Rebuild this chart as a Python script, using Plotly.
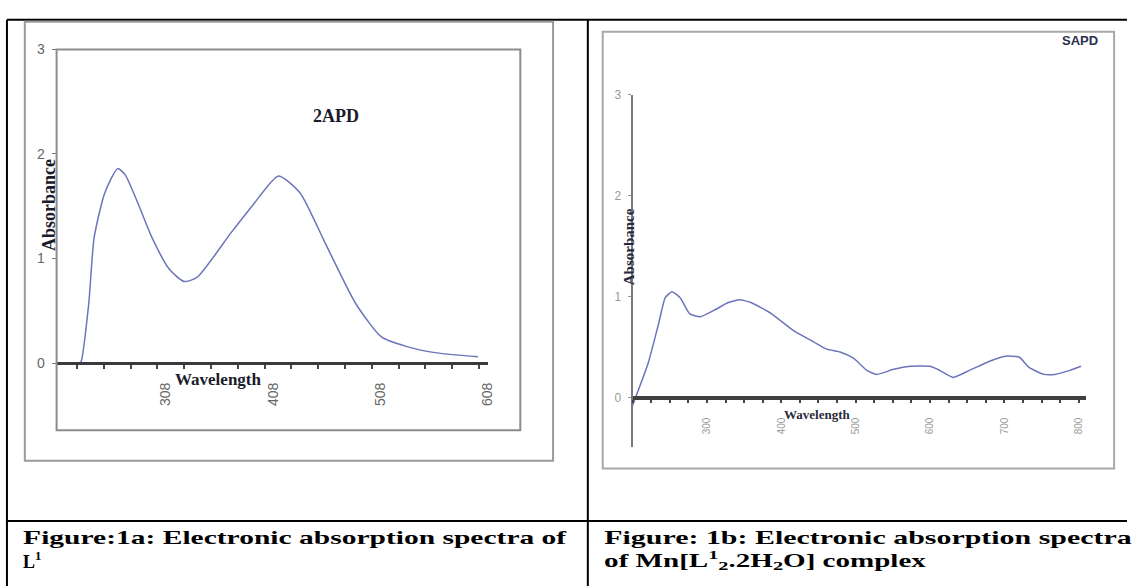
import plotly.graph_objects as go

W, H = 1135, 586

# ---------------- data ----------------
wl_1a = [206, 227, 229, 236, 241, 251, 263, 270, 283, 295, 311, 325, 337, 369, 389, 413, 433, 456, 485, 509, 532, 559, 599]
abs_1a = [0, 0, 0.02, 0.57, 1.20, 1.63, 1.86, 1.80, 1.50, 1.20, 0.90, 0.78, 0.82, 1.25, 1.51, 1.79, 1.63, 1.16, 0.57, 0.25, 0.16, 0.10, 0.06]
ticks_1a = [308, 408, 508, 608]

wl_1b = [200, 221, 235, 244, 253, 264, 277, 291, 311, 328, 344, 360, 387, 417, 444, 461, 480, 497, 515, 528,
         551, 573, 600, 613, 631, 653, 680, 701, 720, 733, 753, 768, 788, 803]
abs_1b = [-0.08, 0.34, 0.73, 0.99, 1.05, 0.99, 0.83, 0.80, 0.87, 0.94, 0.97, 0.94, 0.83, 0.66, 0.55, 0.48, 0.45, 0.39, 0.27, 0.23,
          0.28, 0.31, 0.31, 0.27, 0.20, 0.27, 0.36, 0.41, 0.40, 0.30, 0.23, 0.23, 0.27, 0.31]
ticks_1b = [300, 400, 500, 600, 700, 800]

y_ticks = [0, 1, 2, 3]


def px(x):
    return x / W


def py(y):
    return 1 - y / H


SERIF = "Liberation Serif, Times New Roman, serif"
SANS = "Liberation Sans, Arial, sans-serif"
LINE = "rgb(108,116,186)"

fig = go.Figure()
fig.add_trace(go.Scatter(x=wl_1a, y=abs_1a, mode="lines", line=dict(color=LINE, width=1.5, shape="spline", smoothing=0.6),
                         xaxis="x", yaxis="y", showlegend=False, hoverinfo="skip"))
fig.add_trace(go.Scatter(x=wl_1b, y=abs_1b, mode="lines", line=dict(color=LINE, width=1.5, shape="spline", smoothing=0.5),
                         xaxis="x2", yaxis="y2", showlegend=False, hoverinfo="skip"))

# panel a geometry (pixels)
a_y0, a_y3, a_bot = 360, 42, 428
a_unit = (a_y0 - a_y3) / 3
b_y0, b_y3, b_bot = 395, 88, 445
b_unit = (b_y0 - b_y3) / 3

fig.update_layout(
    width=W, height=H, margin=dict(l=0, r=0, t=0, b=0),
    paper_bgcolor="white", plot_bgcolor="rgba(0,0,0,0)",
    xaxis=dict(domain=[px(57), px(491)], range=[206, 608], anchor="free", position=py(a_y0),
               showline=True, linecolor="#3a3a3a", linewidth=3, showgrid=False, zeroline=False,
               tickmode="array", tickvals=ticks_1a, ticktext=[str(t) for t in ticks_1a],
               ticks="", tickangle=-90, ticklabelstandoff=12,
               tickfont=dict(family=SANS, size=14, color="#666"),
               minor=dict(tickmode="linear", tick0=200, dtick=25, ticks="outside", ticklen=4, tickcolor="#444", tickwidth=1.5)),
    yaxis=dict(domain=[py(a_bot), py(a_y3)], range=[-(a_bot - a_y0) / a_unit, 3], anchor="x",
               showline=False, showgrid=False, zeroline=False,
               tickmode="array", tickvals=y_ticks, ticks="outside", ticklen=4, tickcolor="#777",
               ticklabelstandoff=4, tickfont=dict(family=SANS, size=14, color="#666")),
    xaxis2=dict(domain=[px(637), px(1094)], range=[200, 810], anchor="free", position=py(b_y0),
                showline=True, linecolor="#404040", linewidth=4, showgrid=False, zeroline=False,
                tickmode="array", tickvals=ticks_1b, ticktext=[str(t) for t in ticks_1b],
                ticks="", tickangle=-90, ticklabelstandoff=14,
                tickfont=dict(family=SANS, size=10, color="#999"),
                minor=dict(tickmode="linear", tick0=200, dtick=25, ticks="outside", ticklen=3, tickcolor="#444", tickwidth=1.5)),
    yaxis2=dict(domain=[py(b_bot), py(b_y3)], range=[-(b_bot - b_y0) / b_unit, 3], anchor="x2",
                showline=True, linecolor="#7a7a7a", linewidth=2, showgrid=False, zeroline=False,
                tickmode="array", tickvals=y_ticks, ticks="outside", ticklen=3, tickcolor="#999",
                ticklabelstandoff=4, tickfont=dict(family=SANS, size=12, color="#999")),
)

shapes = []
# table lines
for (x0, y0, x1, y1) in [(7, 12, 1135, 12), (7, 12, 7, 586), (592, 12, 592, 586), (7, 520, 1135, 520)]:
    shapes.append(dict(type="line", xref="paper", yref="paper", x0=px(x0), y0=py(y0), x1=px(x1), y1=py(y1),
                       line=dict(color="black", width=2)))
# chart frames
shapes.append(dict(type="rect", xref="paper", yref="paper", x0=px(25), y0=py(459), x1=px(557), y1=py(14),
                   line=dict(color="#9a9a9a", width=2)))
shapes.append(dict(type="rect", xref="paper", yref="paper", x0=px(57), y0=py(428), x1=px(524), y1=py(42),
                   line=dict(color="#8c8c8c", width=2)))
shapes.append(dict(type="rect", xref="paper", yref="paper", x0=px(607), y0=py(467), x1=px(1122), y1=py(24),
                   line=dict(color="#a8a8a8", width=2)))
fig.update_layout(shapes=shapes)


def ann(text, x, y, size, family=SERIF, color="#111", angle=0, xanchor="center", bold=True):
    t = "<b>" + text + "</b>" if bold else text
    fig.add_annotation(text=t, x=px(x), y=py(y), xref="paper", yref="paper", showarrow=False,
                       xanchor=xanchor, yanchor="middle", textangle=angle,
                       font=dict(family=family, size=size, color=color))


ann("2APD", 338, 110, 18, color="#1b1b2b")
ann("Absorbance", 50, 200, 18, color="#1b1b2b", angle=-90)
ann("Wavelength", 220, 377, 17, color="#1b1b2b")
ann("SAPD", 1088, 33, 13, family=SANS, color="#2b3050")
ann("Absorbance", 633, 242, 15, color="#2a2a3a", angle=-90)
ann("Wavelength", 823, 412, 13, color="#2a2a3a")

ann("Figure:1a: Electronic absorption spectra of", 21, 537, 18, color="black", xanchor="left")
ann("L<sup>1</sup>", 21, 560, 18, color="black", xanchor="left")
ann("Figure: 1b: Electronic absorption spectra", 606, 537, 18, color="black", xanchor="left")
ann("of Mn[L<sup>1</sup><sub>2</sub>.2H<sub>2</sub>O] complex", 606, 560, 18, color="black", xanchor="left")

# stretch caption lines horizontally to the width they occupy in the page
js = """
var gd = document.getElementById('{plot_id}');
var targets = [["Figure:1a", 545], ["Figure: 1b", 528], ["of Mn", 322], ["L1", 24]];
gd.querySelectorAll('text.annotation-text').forEach(function(t){
  var s = t.textContent;
  for (var i = 0; i < targets.length; i++) {
    if (s.indexOf(targets[i][0]) === 0) {
      var bb = t.getBBox();
      var sx = targets[i][1] / bb.width;
      t.setAttribute('transform', 'translate(' + bb.x + ',0) scale(' + sx + ',1) translate(' + (-bb.x) + ',0)');
      break;
    }
  }
});
"""

fig.write_html("out.html", post_script=js, config={"displayModeBar": False})
